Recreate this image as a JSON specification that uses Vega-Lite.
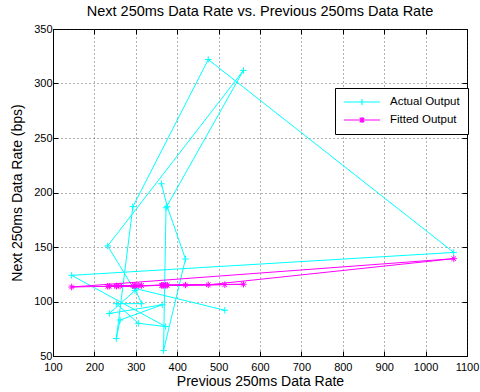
{
  "$schema": "https://vega.github.io/schema/vega-lite/v6.json",
  "width": 414,
  "height": 327,
  "autosize": "none",
  "padding": {"left": 53, "top": 29, "right": 13, "bottom": 36},
  "background": "white",
  "title": {"text": "Next 250ms Data Rate vs. Previous 250ms Data Rate", "fontSize": 14.5, "fontWeight": "normal", "font": "Liberation Sans", "offset": 4, "color": "black"},
  "config": {
    "font": "Liberation Sans",
    "view": {"stroke": "black", "strokeWidth": 1},
    "axis": {
      "domainColor": "black",
      "tickColor": "black",
      "labelColor": "black",
      "titleColor": "black",
      "labelFont": "Liberation Sans",
      "titleFont": "Liberation Sans",
      "labelFontSize": 11,
      "titleFontSize": 14,
      "titleFontWeight": "normal",
      "grid": true,
      "gridDash": [1, 3],
      "gridColor": "#222",
      "gridOpacity": 0.7,
      "tickSize": -5,
      "labelFlush": false,
      "format": "d"
    }
  },
  "resolve": {"axis": {"x": "independent", "y": "independent"}},
  "data": {
    "values": [
      {"i": 1, "s": "Actual Output", "x": 362, "y": 208},
      {"i": 2, "s": "Actual Output", "x": 376, "y": 187},
      {"i": 3, "s": "Actual Output", "x": 420, "y": 139},
      {"i": 4, "s": "Actual Output", "x": 367, "y": 55},
      {"i": 5, "s": "Actual Output", "x": 373, "y": 186},
      {"i": 6, "s": "Actual Output", "x": 560, "y": 312},
      {"i": 7, "s": "Actual Output", "x": 232, "y": 151},
      {"i": 8, "s": "Actual Output", "x": 298, "y": 110},
      {"i": 9, "s": "Actual Output", "x": 236, "y": 89},
      {"i": 10, "s": "Actual Output", "x": 364, "y": 97},
      {"i": 11, "s": "Actual Output", "x": 262, "y": 83},
      {"i": 12, "s": "Actual Output", "x": 253, "y": 66},
      {"i": 13, "s": "Actual Output", "x": 293, "y": 187},
      {"i": 14, "s": "Actual Output", "x": 475, "y": 322},
      {"i": 15, "s": "Actual Output", "x": 1068, "y": 145},
      {"i": 16, "s": "Actual Output", "x": 145, "y": 124},
      {"i": 17, "s": "Actual Output", "x": 372, "y": 77},
      {"i": 18, "s": "Actual Output", "x": 306, "y": 80},
      {"i": 19, "s": "Actual Output", "x": 253, "y": 98},
      {"i": 20, "s": "Actual Output", "x": 314, "y": 98},
      {"i": 21, "s": "Actual Output", "x": 298, "y": 112},
      {"i": 22, "s": "Actual Output", "x": 515, "y": 92},
      {"i": 1, "s": "Fitted Output", "x": 362, "y": 114.8},
      {"i": 2, "s": "Fitted Output", "x": 376, "y": 114.9},
      {"i": 3, "s": "Fitted Output", "x": 420, "y": 115.1},
      {"i": 4, "s": "Fitted Output", "x": 367, "y": 114.8},
      {"i": 5, "s": "Fitted Output", "x": 373, "y": 114.9},
      {"i": 6, "s": "Fitted Output", "x": 560, "y": 115.8},
      {"i": 7, "s": "Fitted Output", "x": 232, "y": 114.0},
      {"i": 8, "s": "Fitted Output", "x": 298, "y": 114.5},
      {"i": 9, "s": "Fitted Output", "x": 236, "y": 114.0},
      {"i": 10, "s": "Fitted Output", "x": 364, "y": 114.8},
      {"i": 11, "s": "Fitted Output", "x": 262, "y": 114.3},
      {"i": 12, "s": "Fitted Output", "x": 253, "y": 114.2},
      {"i": 13, "s": "Fitted Output", "x": 293, "y": 114.5},
      {"i": 14, "s": "Fitted Output", "x": 475, "y": 115.3},
      {"i": 15, "s": "Fitted Output", "x": 1068, "y": 139.3},
      {"i": 16, "s": "Fitted Output", "x": 145, "y": 113.3},
      {"i": 17, "s": "Fitted Output", "x": 372, "y": 114.9},
      {"i": 18, "s": "Fitted Output", "x": 306, "y": 114.6},
      {"i": 19, "s": "Fitted Output", "x": 253, "y": 114.2},
      {"i": 20, "s": "Fitted Output", "x": 314, "y": 114.6},
      {"i": 21, "s": "Fitted Output", "x": 298, "y": 114.5},
      {"i": 22, "s": "Fitted Output", "x": 515, "y": 115.5}
    ]
  },
  "layer": [
    {
      "mark": {"type": "line", "strokeWidth": 1, "clip": true},
      "encoding": {
        "x": {"field": "x", "type": "quantitative", "scale": {"domain": [100, 1100], "nice": false, "zero": false},
              "axis": {"title": "Previous 250ms Data Rate", "values": [100,200,300,400,500,600,700,800,900,1000,1100], "labelPadding": 10, "titlePadding": 2}},
        "y": {"field": "y", "type": "quantitative", "scale": {"domain": [50, 350], "nice": false, "zero": false},
              "axis": {"title": "Next 250ms Data Rate (bps)", "values": [50,100,150,200,250,300,350], "labelPadding": 6, "titlePadding": 9}},
        "order": {"field": "i", "type": "quantitative"},
        "color": {"field": "s", "type": "nominal",
          "scale": {"domain": ["Actual Output", "Fitted Output"], "range": ["#00FFFF", "#FF00FF"]},
          "legend": {"title": null, "orient": "none", "legendX": 282, "legendY": 59,
            "strokeColor": "black", "fillColor": "white", "padding": 8, "cornerRadius": 0,
            "labelFontSize": 11.5, "labelColor": "black", "labelFont": "Liberation Sans",
            "symbolSize": 100, "symbolStrokeWidth": 1.2, "rowPadding": 6, "labelOffset": 22, "symbolOffset": 13,
            "encode": {"symbols": {"update": {"shape": {"signal": "datum.value === 'Actual Output' ? 'M-3.6,0L3.6,0M0,-0.6L0,0.6' : 'M-3.6,0L3.6,0M0,-0.6L0,0.6M-0.45,-0.45L0.45,0.45M-0.45,0.45L0.45,-0.45'"}}}}}}
      }
    },
    {
      "transform": [{"filter": "datum.s === 'Actual Output'"}],
      "mark": {"type": "point", "filled": false, "size": 42, "strokeWidth": 1, "opacity": 1, "shape": "M-1,0L1,0M0,-1L0,1"},
      "encoding": {
        "x": {"field": "x", "type": "quantitative", "axis": {"orient": "top", "labels": false, "title": null, "grid": false, "domain": false, "values": [100,200,300,400,500,600,700,800,900,1000,1100]}},
        "y": {"field": "y", "type": "quantitative", "axis": {"orient": "right", "labels": false, "title": null, "grid": false, "domain": false, "values": [50,100,150,200,250,300,350]}},
        "color": {"field": "s", "type": "nominal", "legend": null}
      }
    },
    {
      "transform": [{"filter": "datum.s === 'Fitted Output'"}],
      "mark": {"type": "point", "filled": false, "size": 42, "strokeWidth": 1, "opacity": 1, "shape": "M-1,0L1,0M0,-1L0,1M-0.7,-0.7L0.7,0.7M-0.7,0.7L0.7,-0.7"},
      "encoding": {
        "x": {"field": "x", "type": "quantitative", "axis": null},
        "y": {"field": "y", "type": "quantitative", "axis": null},
        "color": {"field": "s", "type": "nominal", "legend": null}
      }
    }
  ]
}
